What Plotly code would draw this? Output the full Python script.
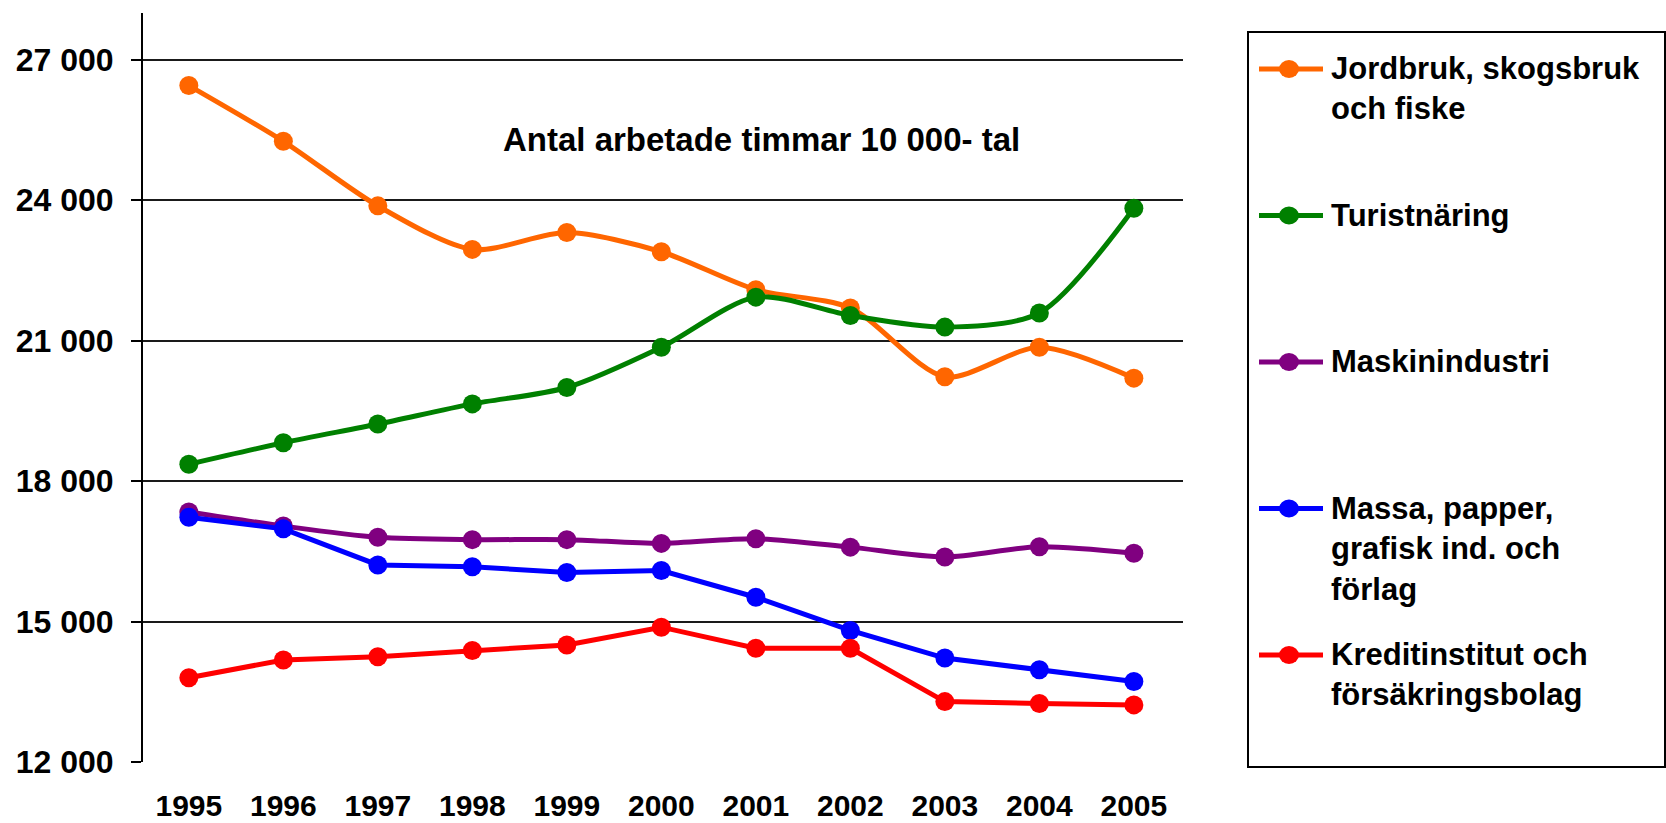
import plotly.graph_objects as go

# ---------------- data ----------------
years = ["1995", "1996", "1997", "1998", "1999", "2000", "2001", "2002", "2003", "2004", "2005"]

jordbruk = [26450, 25260, 23880, 22950, 23310, 22900, 22090, 21700, 20230, 20860, 20200]
turist = [18360, 18820, 19220, 19650, 20000, 20860, 21930, 21540, 21290, 21590, 23830]
maskin = [17340, 17040, 16800, 16750, 16750, 16670, 16770, 16590, 16380, 16600, 16460]
massa = [17230, 16980, 16210, 16170, 16050, 16090, 15520, 14810, 14220, 13970, 13720]
kredit = [13800, 14180, 14250, 14380, 14500, 14880, 14430, 14430, 13290, 13250, 13220]

series_names = [
    "Jordbruk, skogsbruk<br>och fiske",
    "Turistnäring",
    "Maskinindustri",
    "Massa, papper,<br>grafisk ind. och<br>förlag",
    "Kreditinstitut och<br>försäkringsbolag",
]
series_values = [jordbruk, turist, maskin, massa, kredit]
series_colors = ["#FF6600", "#008000", "#800080", "#0000FF", "#FF0000"]
series_smooth = [True, True, True, False, False]

y_tickvals = [12000, 15000, 18000, 21000, 24000, 27000]
y_ticktext = ["12 000", "15 000", "18 000", "21 000", "24 000", "27 000"]

chart_title = "Antal arbetade timmar 10 000- tal"

# ---------------- layout geometry ----------------
W, H = 1666, 823
L, R, T, B = 143, 1183, 13, 762
FONT = "Liberation Sans, Arial, Helvetica, sans-serif"


def px_x(p):
    return (p - L) / (R - L)


def px_y(p):
    return (B - p) / (B - T)


fig = go.Figure()

for name, vals, col, smooth in zip(series_names, series_values, series_colors, series_smooth):
    fig.add_trace(go.Scatter(
        x=years, y=vals, name=name.replace("<br>", " "),
        mode="lines+markers",
        line=dict(color=col, width=5, shape="spline" if smooth else "linear",
                  smoothing=0.8 if smooth else None),
        marker=dict(color=col, size=19),
        showlegend=False, cliponaxis=False,
    ))

shapes = []
annotations = []

# legend box
shapes.append(dict(type="rect", xref="paper", yref="paper",
                   x0=px_x(1248), x1=px_x(1665), y0=px_y(767), y1=px_y(32),
                   line=dict(color="black", width=2), fillcolor="rgba(0,0,0,0)"))

legend_rows = [69, 215.5, 362, 508.5, 655]
for name, col, yy in zip(series_names, series_colors, legend_rows):
    shapes.append(dict(type="line", xref="paper", yref="paper",
                       x0=px_x(1259), x1=px_x(1323), y0=px_y(yy), y1=px_y(yy),
                       line=dict(color=col, width=5)))
    shapes.append(dict(type="circle", xref="paper", yref="paper",
                       xsizemode="pixel", ysizemode="pixel",
                       xanchor=px_x(1289), yanchor=px_y(yy),
                       x0=-10, x1=10, y0=-9, y1=9,
                       fillcolor=col, line=dict(color=col, width=0)))
    annotations.append(dict(xref="paper", yref="paper", x=px_x(1329), y=px_y(yy - 20),
                            xanchor="left", yanchor="top", align="left", showarrow=False,
                            text=name,
                            font=dict(family=FONT, size=31, color="black", weight="bold")))

annotations.append(dict(xref="paper", yref="paper", x=px_x(761), y=px_y(139),
                        xanchor="center", yanchor="middle", showarrow=False,
                        text=chart_title,
                        font=dict(family=FONT, size=33, color="black", weight="bold")))

fig.update_layout(
    width=W, height=H, autosize=False,
    margin=dict(l=L, r=W - R, t=T, b=H - B, pad=0, autoexpand=False),
    paper_bgcolor="white", plot_bgcolor="white",
    shapes=shapes, annotations=annotations,
    font=dict(family=FONT, color="black"),
    xaxis=dict(type="category", range=[-0.485, 10.52], showgrid=False, showline=False,
               zeroline=False, ticks="", ticklabelstandoff=23, automargin=False,
               tickfont=dict(family=FONT, size=30, color="black", weight="bold")),
    yaxis=dict(range=[12000, 28000], tickvals=y_tickvals, ticktext=y_ticktext,
               showgrid=True, gridcolor="#1a1a1a", gridwidth=2, zeroline=False,
               showline=True, linecolor="black", linewidth=2,
               ticks="outside", ticklen=10, tickwidth=2, tickcolor="black",
               ticklabelstandoff=11, automargin=False,
               tickfont=dict(family=FONT, size=32, color="black", weight="bold")),
)

fig.write_html(
    "out.html",
    config={"displayModeBar": False},
    post_script="document.body.style.margin='0';document.body.style.overflow='hidden';",
)
